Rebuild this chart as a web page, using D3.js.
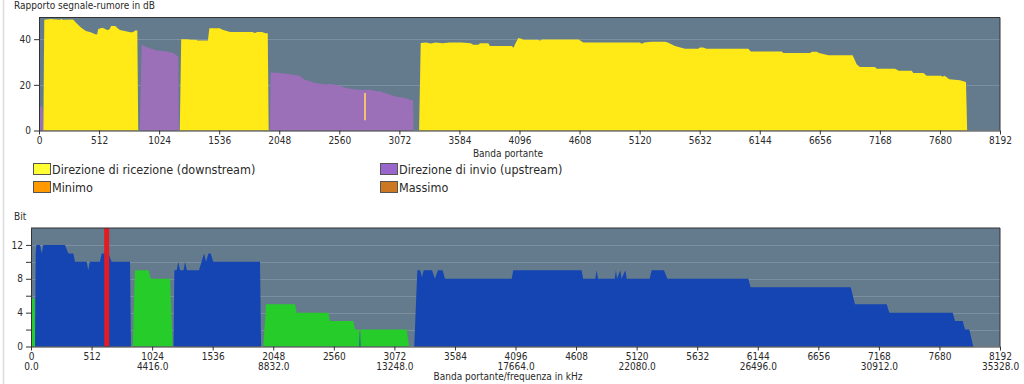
<!DOCTYPE html>
<html><head><meta charset="utf-8">
<script src="https://cdn.jsdelivr.net/npm/d3@7"></script>
<style>
html,body{margin:0;padding:0;background:#fff;}
svg{display:block;}
text{font-family:"Liberation Sans Narrow","DejaVu Sans Condensed",sans-serif;fill:#2a2a2a;}
</style></head>
<body>
<svg id="c" width="1024" height="384"></svg>
<script>
// ---------- DATA ----------
const xTicks = [0,512,1024,1536,2048,2560,3072,3584,4096,4608,5120,5632,6144,6656,7168,7680,8192];
const freqTicks = [0,1024,2048,3072,4096,5120,6144,7168,8192];
const kHzPerCarrier = 4.3125;
const snrTicks = [0,20,40];
const bitTicks = [0,4,8,12];
const bitGrid = [2,4,6,8,10,12];

// SNR downstream (dB) [carrier, value]; null separates bands
const snrDown = [
 [37,0],[45,48.5],[100,48.8],[180,48.5],[190,49],[200,48.5],[290,48.6],[320,47],[360,45],[400,43.6],[440,43],[480,42.2],[495,42],[505,44.5],[540,45],[560,44.6],[580,44],[600,44.2],[615,45.8],[650,45.8],[670,44.8],[690,44],[740,43.5],[780,43],[800,43],[820,43.8],[838,43.8],[846,0],
 null,
 [1200,0],[1212,40],[1260,40],[1300,39.8],[1340,39.8],[1350,39.4],[1440,39.4],[1452,44.8],[1540,44.8],[1560,44.2],[1600,43.6],[1630,43.2],[1820,43.2],[1840,42.7],[1860,43.2],[1900,43.2],[1930,42.6],[1950,42.6],[1958,0],
 null,
 [3240,0],[3254,38.3],[3300,38.5],[3340,38.1],[3380,38.6],[3440,38.2],[3500,38.5],[3600,38.5],[3680,38.2],[3700,37.6],[3745,37.6],[3760,38.2],[3830,38.2],[3844,37],[4030,37],[4045,36.3],[4060,38],[4086,40.5],[4110,40.2],[4130,39.8],[4250,39.8],[4270,39.4],[4290,39.9],[4600,39.9],[4640,38.6],[5120,38.6],[5140,38],[5160,38.6],[5220,38.9],[5340,38.9],[5360,38.5],[5421,37],[5460,36.5],[5507,35.8],[5620,35.8],[5634,36.4],[5660,36.4],[5691,35.8],[6046,35.8],[6067,34.6],[6331,34.6],[6345,33.9],[6572,33.9],[6590,34.5],[6630,34.5],[6650,34],[6728,33],[6936,33],[6970,29],[6998,27.8],[7126,27.8],[7141,27],[7297,27],[7330,26.2],[7440,26.2],[7453,25.2],[7540,25.2],[7567,24],[7690,24],[7700,23.5],[7720,24],[7760,22.5],[7851,22],[7893,21.4],[7902,21.3],[7912,0]
];
// SNR upstream (dB)
const snrUp = [
 [0,0],[4,10],[30,11],[36,0],
 null,
 [860,0],[875,37.6],[920,36.5],[960,35.8],[1003,35],[1060,34.8],[1100,34.5],[1145,34],[1170,33],[1187,32.5],[1192,0],
 null,
 [1968,0],[1975,25.4],[2050,25.2],[2120,24.8],[2180,24.3],[2225,23.9],[2260,22.2],[2300,21.8],[2350,20.8],[2450,20.2],[2481,20.5],[2566,19.5],[2623,18.5],[2700,18],[2762,17.7],[2820,17.8],[2878,17.2],[2906,17.2],[2960,16.2],[3049,14.8],[3120,14.2],[3177,13.3],[3188,13.3],[3193,0]
];
// SNR spike [carrier, low, high]
const snrSpike = [[2779,4.5,16.4]];

// Bits downstream
const bitsDown = [
 [34,0],[40,11],[45,12],[76,12],[90,11],[104,12],[287,12],[316,11],[358,11],[372,10],[471,10],[484,9],[497,10],[583,10],[598,11],[654,11],[682,10],[837,10],[845,0],
 null,
 [1205,0],[1212,9],[1232,9],[1245,10],[1260,9],[1290,9],[1302,10],[1318,9],[1420,9],[1463,11],[1480,10],[1500,11],[1519,11],[1541,10],[1936,10],[1945,0],
 null,
 [2776,0],[2781,1.8],[2786,0],
 null,
 [3240,0],[3266,9],[3290,9],[3305,8.2],[3320,9],[3390,9],[3415,8],[3440,9],[3480,9],[3500,8],[4064,8],[4077,9],[4655,9],[4668,8],[4770,8],[4782,9],[4794,8],[4935,8],[4945,9],[4955,8],[4982,9],[4992,8],[5025,9],[5036,8],[5230,8],[5247,9],[5351,9],[5380,8],[6064,8],[6084,7],[6930,7],[6966,5],[7234,5],[7256,4],[7792,4],[7812,3],[7877,3],[7896,2],[7933,2],[7966,0]
];
// Bits upstream
const bitsUp = [
 [0,0],[6,5.7],[30,5.7],[34,0],
 null,
 [860,0],[879,9],[992,9],[1012,8],[1175,8],[1198,0],
 null,
 [1964,0],[1987,5],[2232,5],[2246,4],[2513,4],[2528,3],[2725,3],[2739,2],[2775,2],[2780,0.2],[2787,2],[3176,2],[3196,0]
];
const markerCarrier = [640];

const legendItems = [
 {label:"Direzione di ricezione (downstream)", color:"#ffff33"},
 {label:"Direzione di invio (upstream)", color:"#9966cc"},
 {label:"Minimo", color:"#ff9900"},
 {label:"Massimo", color:"#cc7722"}
];

// ---------- DRAW ----------
const svg = d3.select("#c");
const C = {bg:"#647b8e", grid:"#7b8fa0", yellow:"#ffe917", purple:"#9c70b8", blue:"#1545b3", green:"#26cc2a", red:"#e31b23", axis:"#333"};

svg.append("line").attr("x1",3.5).attr("x2",3.5).attr("y1",0).attr("y2",384).attr("stroke","#dcdcdc").attr("stroke-width",1.5);

function panel(o){
  const x = d3.scaleLinear().domain([0,8192]).range([o.x0,o.x1]);
  const y = d3.scaleLinear().domain([0,o.ymax]).range([o.y0,o.y1]);
  const g = svg.append("g");
  g.append("rect").attr("x",o.x0).attr("y",o.y1).attr("width",o.x1-o.x0).attr("height",o.y0-o.y1).attr("fill",C.bg);
  g.selectAll(".gr").data(o.grid).join("line")
    .attr("x1",o.x0).attr("x2",o.x1).attr("y1",d=>Math.round(y(d))+0.5).attr("y2",d=>Math.round(y(d))+0.5)
    .attr("stroke",C.grid).attr("stroke-width",1);
  const area = d3.area().defined(d=>d!==null).x(d=>x(d[0])).y0(y(0)).y1(d=>y(d[1]));
  o.series.forEach(s=>{
    g.append("path").datum(s.data).attr("d",area).attr("fill",s.color);
  });
  return {x,y,g};
}

// Top panel
const topP = panel({x0:39,x1:1000,y0:130.5,y1:17.5,ymax:49.5,grid:[20,40],
  series:[{data:snrUp,color:C.purple},{data:snrDown,color:C.yellow}]});
topP.g.selectAll(".sp").data(snrSpike).join("rect")
  .attr("x",d=>topP.x(d[0])-1).attr("width",2).attr("y",d=>topP.y(d[2])).attr("height",d=>topP.y(d[1])-topP.y(d[2]))
  .attr("fill","#f2c070");
const topXAxis = svg.append("g").attr("transform","translate(0,130.5)")
  .call(d3.axisBottom(topP.x).tickValues(xTicks).tickSize(4).tickSizeOuter(0).tickFormat(d3.format("d")));
const topYAxis = svg.append("g").attr("transform","translate(39,0)")
  .call(d3.axisLeft(topP.y).tickValues(snrTicks).tickSize(5).tickSizeOuter(0));
svg.append("path").attr("d",`M39,17.5H1000V130.5`).attr("fill","none").attr("stroke",C.axis);

// Bottom panel
const botP = panel({x0:31,x1:1000,y0:346.5,y1:228,ymax:14,grid:bitGrid,
  series:[{data:bitsUp,color:C.green},{data:bitsDown,color:C.blue}]});
botP.g.selectAll(".mk").data(markerCarrier).join("rect")
  .attr("x",d=>botP.x(d)-2.5).attr("width",5).attr("y",228).attr("height",346.5-228).attr("fill",C.red);
const botXAxis = svg.append("g").attr("transform","translate(0,346.5)")
  .call(d3.axisBottom(botP.x).tickValues(xTicks).tickSize(4).tickSizeOuter(0).tickFormat(d3.format("d")));
botXAxis.selectAll(".tick").filter(d=>freqTicks.includes(d)).append("text")
  .attr("class","freq").attr("y",16).attr("dy","0.71em").attr("fill","#2a2a2a").text(d=>(d*kHzPerCarrier).toFixed(1));
const botYAxis = svg.append("g").attr("transform","translate(31,0)")
  .call(d3.axisLeft(botP.y).tickValues([0,2,4,6,8,10,12]).tickSize(5).tickSizeOuter(0)
    .tickFormat(d=>bitTicks.includes(d)?d:""));
svg.append("path").attr("d",`M31,228H1000V346.5`).attr("fill","none").attr("stroke",C.axis);

[topXAxis,topYAxis,botXAxis,botYAxis].forEach(a=>{
  a.attr("font-family",null).attr("font-size",10);
  a.selectAll("text").attr("font-size",10).attr("fill","#2a2a2a");
  a.selectAll("line,path").attr("stroke",C.axis);
});
topXAxis.selectAll(".tick text").attr("y",6);
botXAxis.selectAll(".tick text:not(.freq)").attr("y",6);

// Titles
svg.append("text").attr("x",14).attr("y",9).attr("font-size",10).text("Rapporto segnale-rumore in dB");
svg.append("text").attr("x",14).attr("y",220).attr("font-size",10).text("Bit");
svg.append("text").attr("x",508).attr("y",157).attr("text-anchor","middle").attr("font-size",10).text("Banda portante");
svg.append("text").attr("x",508).attr("y",380).attr("text-anchor","middle").attr("font-size",10).text("Banda portante/frequenza in kHz");

// Legend
const lg = svg.append("g");
const lpos = [[33,163],[380,163],[33,181],[380,181]];
legendItems.forEach((d,i)=>{
  const [lx,ly]=lpos[i];
  lg.append("rect").attr("x",lx+0.5).attr("y",ly+0.5).attr("width",17).attr("height",11).attr("fill",d.color).attr("stroke","#555").attr("stroke-width",1);
  lg.append("text").attr("x",lx+19).attr("y",ly+10.5).attr("font-size",12.5).attr("fill","#333").text(d.label);
});
</script>
</body></html>
